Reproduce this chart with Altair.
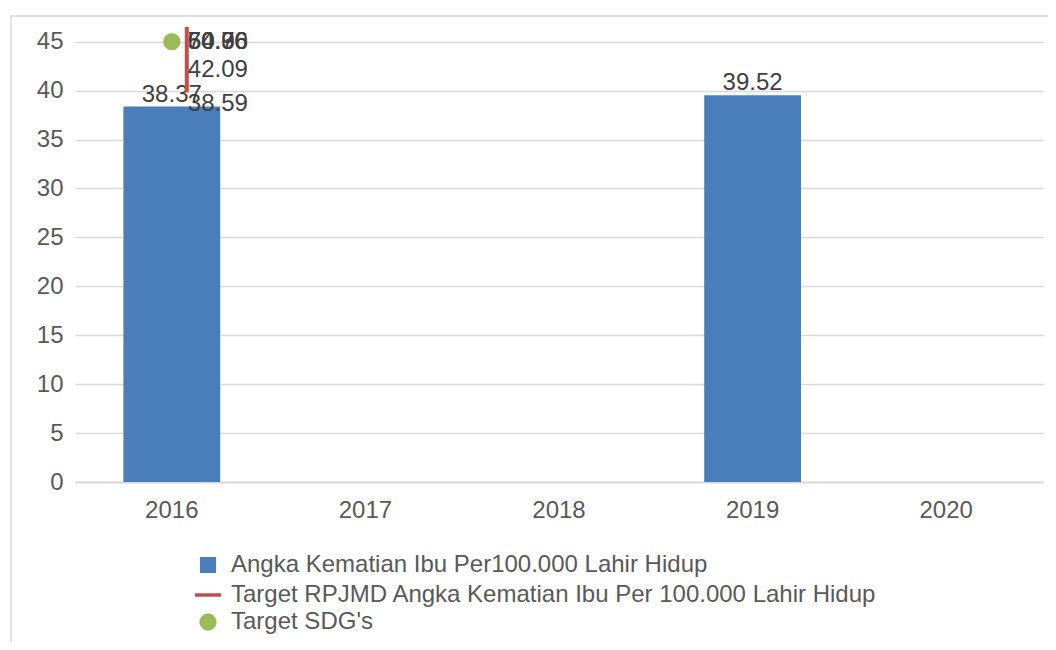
import altair as alt
import pandas as pd

years = ["2016", "2017", "2018", "2019", "2020"]
series = [
    "Angka Kematian Ibu Per100.000 Lahir Hidup",
    "Target RPJMD Angka Kematian Ibu Per 100.000 Lahir Hidup",
    "Target SDG's",
]
colors = ["#4a7ebb", "#c0504d", "#9bbb59"]
shapes = ["square", "stroke", "circle"]
sizes = [160, 700, 190]

aki_years = ["2016", "2019"]
aki_values = [38.37, 39.52]

rpjmd_line_years = ["2016", "2016"]
rpjmd_line_values = [70.0, 39.8]

rpjmd_label_years = ["2016", "2016", "2016", "2016", "2016", "2016"]
rpjmd_label_values = [70, 60.76, 54.36, 50.96, 42.09, 38.59]

sdg_years = ["2016"]
sdg_values = [45]

y_ticks = [0, 5, 10, 15, 20, 25, 30, 35, 40, 45]

FONT = "Liberation Sans"
FS = 24

bars_df = pd.DataFrame({"year": aki_years, "value": aki_values, "series": series[0]})
line_df = pd.DataFrame({"year": rpjmd_line_years, "value": rpjmd_line_values, "series": series[1]})
lab_df = pd.DataFrame({"year": rpjmd_label_years, "value": rpjmd_label_values, "series": series[1]})
sdg_df = pd.DataFrame({"year": sdg_years, "value": sdg_values, "series": series[2]})
frame_df = pd.DataFrame({"k": [0]})

x_enc = alt.X(
    "year:N",
    scale=alt.Scale(domain=years, paddingInner=0.5, paddingOuter=0.25),
    axis=alt.Axis(title=None, labelAngle=0, ticks=False, domainColor="#d9d9d9", domainWidth=2,
                  labelColor="#595959", labelFontSize=FS, labelFont=FONT, labelPadding=16, grid=False),
)
y_scale = alt.Scale(domain=[0, 46.5], nice=False, zero=True)
y_enc = alt.Y(
    "value:Q",
    scale=y_scale,
    axis=alt.Axis(title=None, values=y_ticks, ticks=False, domain=False, grid=True, gridColor="#d9d9d9",
                  gridWidth=1.5, labelColor="#595959", labelFontSize=FS, labelFont=FONT, labelPadding=12),
)

legend = alt.Legend(title=None, orient="none", legendX=118, legendY=526, labelFontSize=FS,
                    labelFont=FONT, labelColor="#595959", rowPadding=1, symbolStrokeWidth=3.5,
                    labelOffset=8, labelLimit=900)
color_enc = alt.Color("series:N", scale=alt.Scale(domain=series, range=colors), legend=legend)

frame = alt.Chart(frame_df).mark_rect(fillOpacity=0, stroke="#d9d9d9", strokeWidth=1.5, clip=False).encode(
    x=alt.value(-64), x2=alt.value(1100), y=alt.value(-11), y2=alt.value(700)
)

bars = alt.Chart(bars_df).mark_bar().encode(x=x_enc, y=y_enc, color=color_enc)

bar_text = alt.Chart(bars_df).mark_text(dy=-12, fontSize=FS, font=FONT, color="#404040").encode(
    x=alt.X("year:N"), y=alt.Y("value:Q"), text=alt.Text("value:Q", format=".2f")
)

line = alt.Chart(line_df).mark_line(strokeWidth=4, xOffset=15, clip=True).encode(
    x=alt.X("year:N"), y=alt.Y("value:Q"), color=color_enc
)

line_text = alt.Chart(lab_df).transform_calculate(ylab="min(datum.value, 45)").mark_text(
    align="left", baseline="middle", xOffset=16, fontSize=FS, font=FONT, color="#404040"
).encode(
    x=alt.X("year:N"), y=alt.Y("ylab:Q"), text=alt.Text("value:Q", format=".2f")
)

points = alt.Chart(sdg_df).mark_point(filled=True, opacity=1, strokeWidth=3.5).encode(
    x=alt.X("year:N"),
    y=alt.Y("value:Q"),
    color=color_enc,
    stroke=alt.Stroke("series:N", scale=alt.Scale(domain=series, range=colors), legend=legend),
    shape=alt.Shape("series:N", scale=alt.Scale(domain=series, range=shapes), legend=legend),
    size=alt.Size("series:N", scale=alt.Scale(type="ordinal", domain=series, range=sizes), legend=legend),
)

chart = alt.layer(frame, bars, bar_text, line, line_text, points).properties(
    width=968,
    height=455,
    padding={"left": 67, "top": 19, "right": 5, "bottom": 160},
    autosize=alt.AutoSizeParams(type="none"),
).configure_view(stroke=None)

chart.save("out.html", embed_options={"renderer": "svg", "actions": False})
